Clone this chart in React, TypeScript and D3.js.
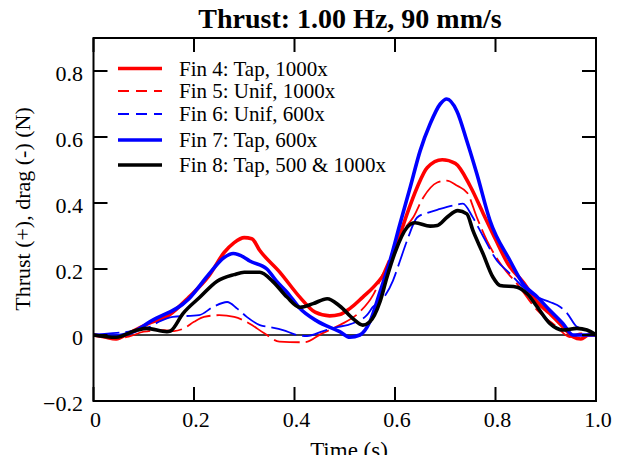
import React from "react";
import * as d3 from "d3";

const W = 618;
const H = 455;

const xTicks = [0, 0.2, 0.4, 0.6, 0.8, 1.0];
const xTickLabels = ["0", "0.2", "0.4", "0.6", "0.8", "1.0"];
const yTicks = [-0.2, 0, 0.2, 0.4, 0.6, 0.8];
const yTickLabels = ["\u22120.2", "0", "0.2", "0.4", "0.6", "0.8"];

// Fin 4: Tap, 1000x (red solid)
const fin4T = [0, 0.02, 0.045, 0.07, 0.11, 0.15, 0.19, 0.23, 0.26, 0.28, 0.3, 0.315, 0.331, 0.371, 0.411, 0.441, 0.47, 0.49, 0.51, 0.536, 0.557, 0.584, 0.604, 0.624, 0.644, 0.664, 0.694, 0.72, 0.75, 0.775, 0.8, 0.825, 0.855, 0.883, 0.908, 0.934, 0.954, 0.97, 0.985, 1];
const fin4V = [0, -0.005, -0.012, 0.005, 0.035, 0.06, 0.115, 0.18, 0.25, 0.28, 0.295, 0.292, 0.256, 0.19, 0.114, 0.069, 0.058, 0.062, 0.08, 0.115, 0.145, 0.2, 0.277, 0.367, 0.447, 0.507, 0.531, 0.52, 0.45, 0.37, 0.29, 0.215, 0.16, 0.1, 0.065, 0.025, -0.005, -0.012, 0, 0];

// Fin 5: Unif, 1000x (red dashed)
const fin5T = [0, 0.04, 0.07, 0.1, 0.14, 0.16, 0.18, 0.2, 0.22, 0.25, 0.28, 0.31, 0.34, 0.37, 0.42, 0.455, 0.49, 0.53, 0.556, 0.576, 0.596, 0.616, 0.636, 0.656, 0.684, 0.703, 0.724, 0.744, 0.763, 0.783, 0.815, 0.843, 0.883, 0.922, 0.948, 0.968, 1];
const fin5V = [0, -0.01, -0.005, 0.01, 0.015, 0.012, 0.02, 0.04, 0.055, 0.06, 0.055, 0.035, 0.005, -0.02, -0.022, 0.005, 0.03, 0.07, 0.12, 0.186, 0.255, 0.316, 0.356, 0.416, 0.462, 0.468, 0.452, 0.43, 0.356, 0.286, 0.205, 0.155, 0.075, 0.025, -0.006, 0.005, 0];

// Fin 6: Unif, 600x (blue dashed)
const fin6T = [0, 0.033, 0.07, 0.112, 0.13, 0.158, 0.21, 0.238, 0.266, 0.286, 0.305, 0.331, 0.351, 0.377, 0.405, 0.425, 0.457, 0.485, 0.505, 0.524, 0.544, 0.556, 0.576, 0.596, 0.61, 0.624, 0.644, 0.664, 0.69, 0.715, 0.735, 0.755, 0.775, 0.803, 0.829, 0.855, 0.883, 0.908, 0.929, 0.943, 0.962, 0.982, 1];
const fin6V = [0, 0.005, 0.01, 0.025, 0.04, 0.055, 0.06, 0.085, 0.1, 0.08, 0.055, 0.03, 0.024, 0.015, 0, -0.003, 0.012, 0.024, 0.03, 0.04, 0.06, 0.085, 0.11, 0.165, 0.225, 0.286, 0.356, 0.37, 0.382, 0.392, 0.398, 0.356, 0.3, 0.225, 0.186, 0.145, 0.115, 0.1, 0.085, 0.065, 0.025, 0.015, 0];

// Fin 7: Tap, 600x (blue solid)
const fin7T = [0, 0.04, 0.08, 0.112, 0.19, 0.23, 0.26, 0.278, 0.3, 0.31, 0.345, 0.366, 0.385, 0.41, 0.445, 0.49, 0.51, 0.53, 0.55, 0.57, 0.59, 0.61, 0.63, 0.65, 0.67, 0.69, 0.703, 0.723, 0.743, 0.763, 0.789, 0.829, 0.855, 0.883, 0.908, 0.934, 0.954, 0.98, 1];
const fin7V = [0, -0.003, 0.01, 0.04, 0.11, 0.185, 0.235, 0.247, 0.235, 0.225, 0.2, 0.16, 0.13, 0.082, 0.042, 0.01, -0.007, 0, 0.04, 0.13, 0.225, 0.337, 0.446, 0.558, 0.64, 0.7, 0.715, 0.679, 0.588, 0.488, 0.347, 0.225, 0.155, 0.115, 0.075, 0.035, 0, 0, 0];

// Fin 8: Tap, 500 & 1000x (black solid)
const fin8T = [0, 0.045, 0.087, 0.106, 0.146, 0.153, 0.178, 0.212, 0.246, 0.28, 0.3, 0.331, 0.357, 0.385, 0.411, 0.437, 0.465, 0.49, 0.516, 0.536, 0.55, 0.57, 0.584, 0.6, 0.624, 0.64, 0.67, 0.684, 0.703, 0.725, 0.743, 0.755, 0.775, 0.795, 0.809, 0.843, 0.863, 0.883, 0.908, 0.934, 0.962, 0.982, 1];
const fin8V = [0, -0.007, 0.015, 0.02, 0.01, 0.012, 0.065, 0.115, 0.163, 0.183, 0.19, 0.19, 0.162, 0.115, 0.084, 0.095, 0.11, 0.088, 0.05, 0.03, 0.04, 0.1, 0.175, 0.25, 0.326, 0.34, 0.33, 0.332, 0.356, 0.377, 0.367, 0.317, 0.247, 0.175, 0.15, 0.145, 0.125, 0.085, 0.035, 0.015, 0.02, 0.015, 0];

const seriesNames = ["Fin 4: Tap, 1000x", "Fin 5: Unif, 1000x", "Fin 6: Unif, 600x", "Fin 7: Tap, 600x", "Fin 8: Tap, 500 & 1000x"];
const seriesT = [fin4T, fin5T, fin6T, fin7T, fin8T];
const seriesV = [fin4V, fin5V, fin6V, fin7V, fin8V];
const seriesColor = ["#ff0000", "#ff0000", "#0000ff", "#0000ff", "#000000"];
const seriesWidth = [3.6, 1.8, 1.8, 3.6, 3.6];
const seriesDash = [null, "26,6", "26,6", null, null];
const legendDash = [null, "11,7", "11,7", null, null];

const M = { left: 93.5, right: 596, top: 38, bottom: 401 };
const FONT = "'Liberation Serif', 'Times New Roman', serif";

export default function App() {
  const x = d3.scaleLinear().domain([0, 1]).range([M.left, M.right]);
  const y = d3.scaleLinear().domain([-0.2, 0.9]).range([M.bottom, M.top]);
  const line = d3
    .line<[number, number]>()
    .x((d) => x(d[0]))
    .y((d) => y(d[1]))
    .curve(d3.curveMonotoneX);

  const tickLen = 14;
  const legendY = [68.5, 91, 114, 140, 165];

  return (
    <svg width={W} height={H} style={{ position: "absolute", left: 0, top: 0, background: "#fff" }} fontFamily={FONT}>
      <rect x={0} y={0} width={W} height={H} fill="#fff" />
      <text x={350} y={28} textAnchor="middle" fontSize={28} fontWeight="bold">
        Thrust: 1.00 Hz, 90 mm/s
      </text>
      {/* zero line */}
      <line x1={x(0)} x2={x(1)} y1={y(0)} y2={y(0)} stroke="#000" strokeWidth={1.5} />
      {/* series */}
      <g>
        {seriesT.map((ts, i) => (
          <path
            key={i}
            d={line(ts.map((t, j) => [t, seriesV[i][j]] as [number, number])) || ""}
            fill="none"
            stroke={seriesColor[i]}
            strokeWidth={seriesWidth[i]}
            strokeDasharray={seriesDash[i] || undefined}
            strokeLinejoin="round"
          />
        ))}
      </g>
      {/* frame */}
      <rect x={M.left} y={M.top} width={M.right - M.left} height={M.bottom - M.top} fill="none" stroke="#000" strokeWidth={2} />
      {/* x ticks */}
      {xTicks.map((t, i) => (
        <g key={"xt" + i}>
          <line x1={x(t)} x2={x(t)} y1={M.bottom} y2={M.bottom - tickLen} stroke="#000" strokeWidth={2} />
          <line x1={x(t)} x2={x(t)} y1={M.top} y2={M.top + tickLen} stroke="#000" strokeWidth={2} />
          <text x={x(t) + 2} y={427} textAnchor="middle" fontSize={22}>
            {xTickLabels[i]}
          </text>
        </g>
      ))}
      {/* y ticks */}
      {yTicks.map((v, i) => (
        <g key={"yt" + i}>
          <line x1={M.left} x2={M.left + tickLen} y1={y(v)} y2={y(v)} stroke="#000" strokeWidth={2} />
          <line x1={M.right} x2={M.right - tickLen} y1={y(v)} y2={y(v)} stroke="#000" strokeWidth={2} />
          <text x={83} y={y(v) + 10} textAnchor="end" fontSize={22}>
            {yTickLabels[i]}
          </text>
        </g>
      ))}
      <text x={349} y={458} textAnchor="middle" fontSize={23}>
        Time (s)
      </text>
      <text transform={`translate(30,209) rotate(-90)`} textAnchor="middle" fontSize={22}>
        Thrust (+), drag (-) (N)
      </text>
      {/* legend */}
      {seriesNames.map((n, i) => (
        <g key={"lg" + i}>
          <line
            x1={118}
            x2={162}
            y1={legendY[i]}
            y2={legendY[i]}
            stroke={seriesColor[i]}
            strokeWidth={seriesWidth[i]}
            strokeDasharray={legendDash[i] || undefined}
          />
          <text x={179} y={legendY[i] + 7} fontSize={21}>
            {n}
          </text>
        </g>
      ))}
    </svg>
  );
}
